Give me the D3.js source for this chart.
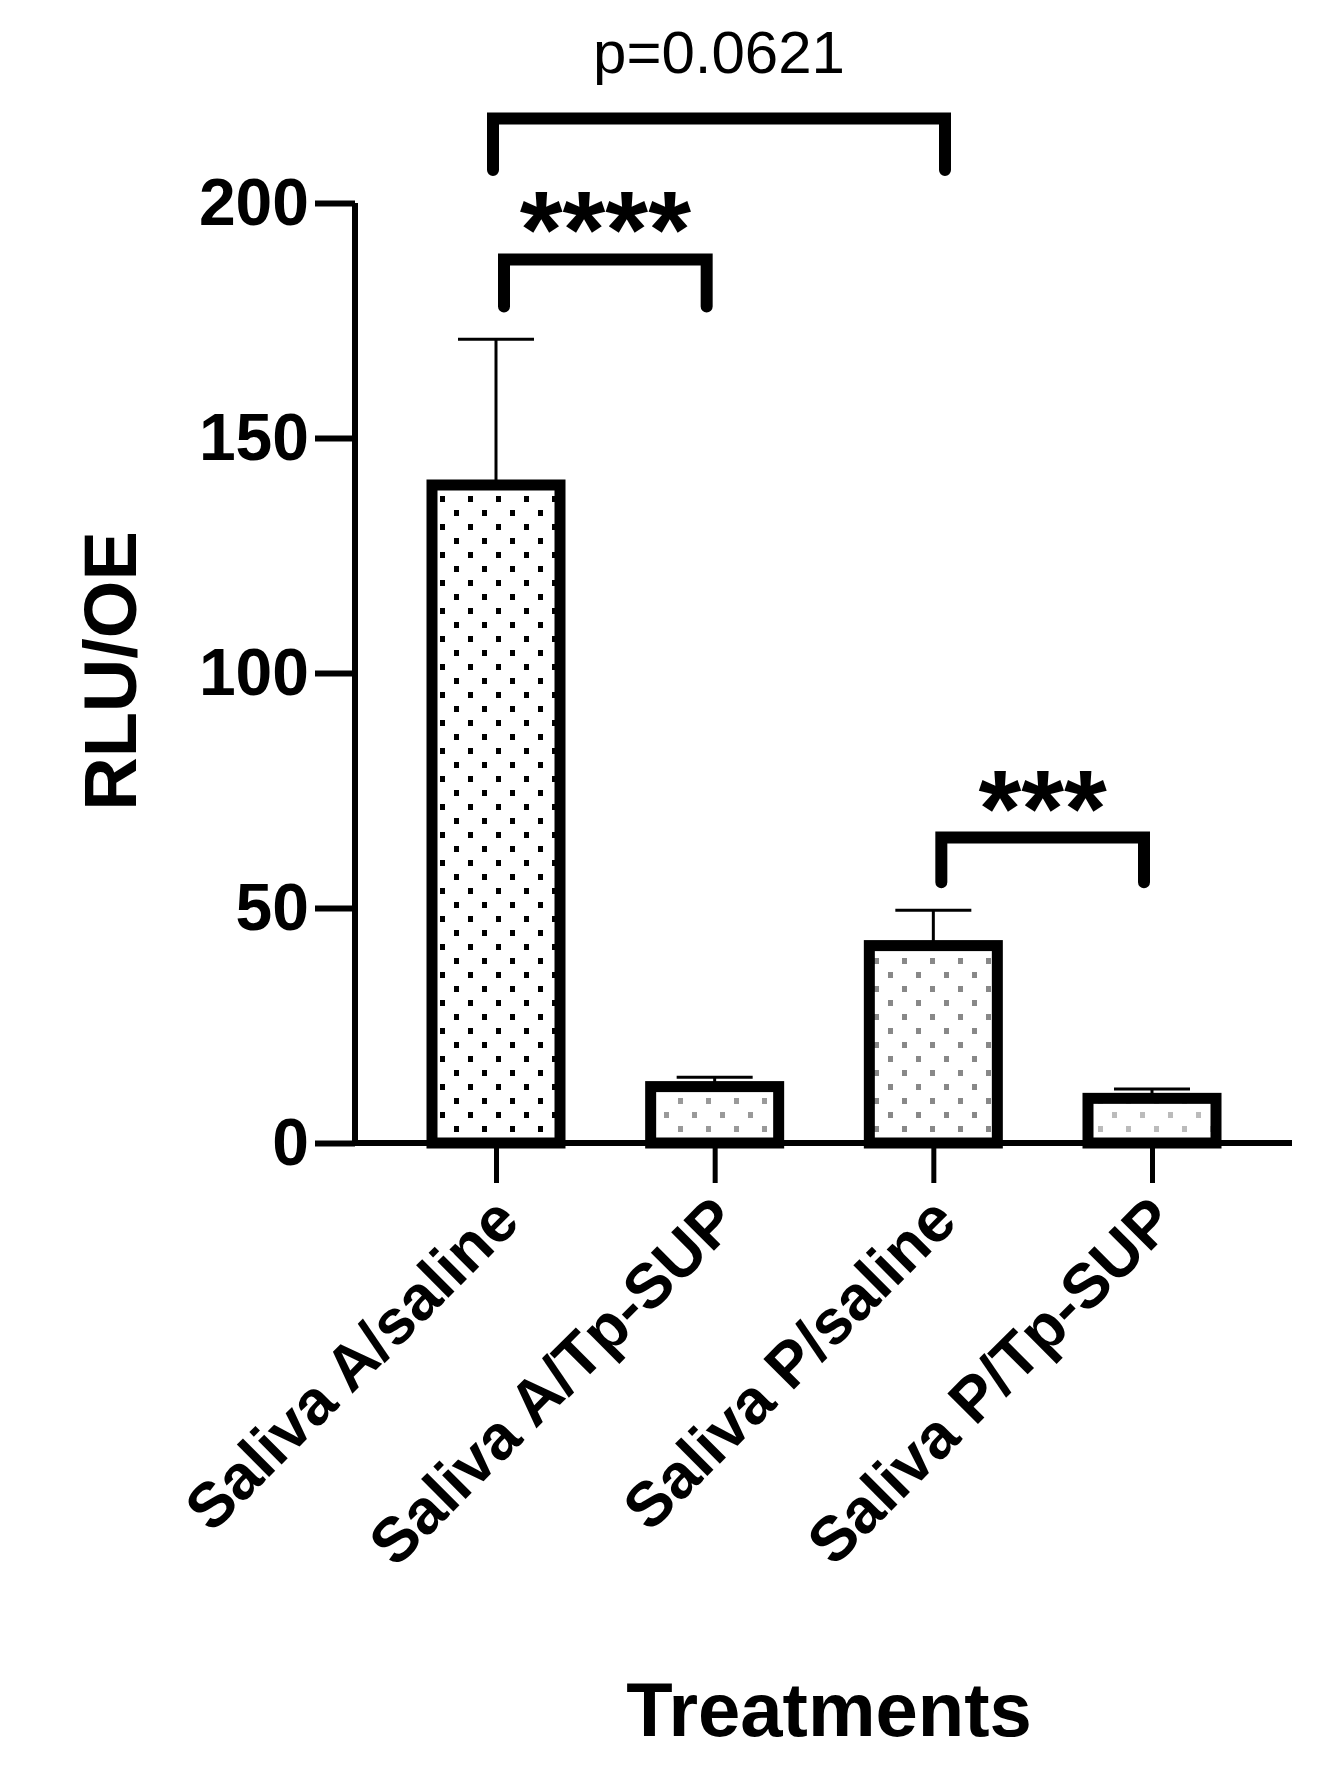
<!DOCTYPE html>
<html>
<head>
<meta charset="utf-8" />
<style>
  body { margin: 0; background: #fff; }
  text { font-family: "Liberation Sans", Arial, sans-serif; }
</style>
</head>
<body>
<div id="chart"></div>
<script src="https://cdn.jsdelivr.net/npm/d3@7"></script>
<script>
var categories = ["Saliva A/saline", "Saliva A/Tp-SUP", "Saliva P/saline", "Saliva P/Tp-SUP"];
var means = [140, 12, 42, 9.5];
var errors = [31, 2, 7.5, 2];
var yTicks = [0, 50, 100, 150, 200];
var dotColors = ["#000", "#999", "#888", "#bbb"];
var brackets = [
  { from: 0, to: 2, top: 218, end: 207, label: "p=0.0621", bold: false },
  { from: 0, to: 1, top: 188, end: 178, label: "****", bold: true },
  { from: 2, to: 3, top: 65, end: 55.5, label: "***", bold: true }
];

var width = 1322, height = 1772;
var x0 = 355, x1 = 1292;
var svg = d3.select("#chart").append("svg").attr("width", width).attr("height", height);

var y = d3.scaleLinear().domain([0, 200]).range([1143, 203]);
var x = d3.scalePoint().domain(categories).range([496, 1152]);
var barW = 128;

var defs = svg.append("defs");
dotColors.forEach(function (c, i) {
  var p = defs.append("pattern").attr("id", "dots" + i).attr("patternUnits", "userSpaceOnUse")
    .attr("width", 28).attr("height", 28);
  p.append("rect").attr("x", 6).attr("y", 6).attr("width", 5).attr("height", 6).attr("fill", c);
  p.append("rect").attr("x", 20).attr("y", 20).attr("width", 5).attr("height", 6).attr("fill", c);
});

// error bars
svg.append("g").selectAll("g").data(categories).join("g").each(function (d, i) {
  var g = d3.select(this), cx = x(d);
  g.append("line").attr("x1", cx).attr("x2", cx).attr("y1", y(means[i])).attr("y2", y(means[i] + errors[i]))
    .attr("stroke", "#000").attr("stroke-width", 3);
  g.append("line").attr("x1", cx - 38).attr("x2", cx + 38).attr("y1", y(means[i] + errors[i])).attr("y2", y(means[i] + errors[i]))
    .attr("stroke", "#000").attr("stroke-width", 3);
});

// bars
svg.append("g").selectAll("rect").data(categories).join("rect")
  .attr("x", d => x(d) - barW / 2)
  .attr("y", (d, i) => y(means[i]))
  .attr("width", barW)
  .attr("height", (d, i) => y(0) - y(means[i]))
  .attr("fill", (d, i) => "url(#dots" + i + ")")
  .attr("stroke", "#000").attr("stroke-width", 11);

// y axis
var yAxis = svg.append("g").attr("transform", "translate(" + x0 + ",0)")
  .call(d3.axisLeft(y).tickValues(yTicks).tickSize(40).tickPadding(6));
yAxis.select(".domain").attr("d", "M0," + y(200) + "V" + y(0)).attr("stroke-width", 6);
yAxis.selectAll(".tick line").attr("stroke-width", 6);
yAxis.selectAll("text").attr("font-size", 66).attr("font-weight", "bold").attr("font-family", "Liberation Sans, Arial, sans-serif");

// x axis
var xAxis = svg.append("g").attr("transform", "translate(0," + y(0) + ")")
  .call(d3.axisBottom(x).tickSize(40).tickFormat(""));
xAxis.select(".domain").attr("d", "M" + x0 + ",0H" + x1).attr("stroke-width", 6);
xAxis.selectAll(".tick line").attr("stroke-width", 5);

svg.append("g").selectAll("text").data(categories).join("text")
  .attr("transform", d => "translate(" + (x(d) + 26) + "," + 1224 + ") rotate(-45)")
  .attr("text-anchor", "end")
  .attr("font-size", 63).attr("font-weight", "bold")
  .text(d => d);

// axis titles
svg.append("text").attr("transform", "translate(136,671) rotate(-90)").attr("text-anchor", "middle")
  .attr("font-size", 74).attr("font-weight", "bold").text("RLU/OE");
svg.append("text").attr("x", 829).attr("y", 1736).attr("text-anchor", "middle")
  .attr("font-size", 76).attr("font-weight", "bold").text("Treatments");

// significance brackets
brackets.forEach(function (b) {
  var xa = x(categories[b.from]) + 8, xb = x(categories[b.to]) - 8;
  if (b.from === 0 && b.to === 2) { xa = x(categories[0]) - 3; xb = 945; }
  svg.append("path")
    .attr("d", "M" + xa + "," + y(b.end) + "V" + y(b.top) + "H" + xb + "V" + y(b.end))
    .attr("fill", "none").attr("stroke", "#000").attr("stroke-width", 12)
    .attr("stroke-linecap", "round").attr("stroke-linejoin", "miter");
  svg.append("text").attr("x", (xa + xb) / 2).attr("y", b.bold ? y(b.top) + 8 : y(b.top) - 45)
    .attr("text-anchor", "middle")
    .attr("font-size", b.bold ? 110 : 60).attr("font-weight", b.bold ? "bold" : "normal")
    .text(b.label);
});
</script>
</body>
</html>
